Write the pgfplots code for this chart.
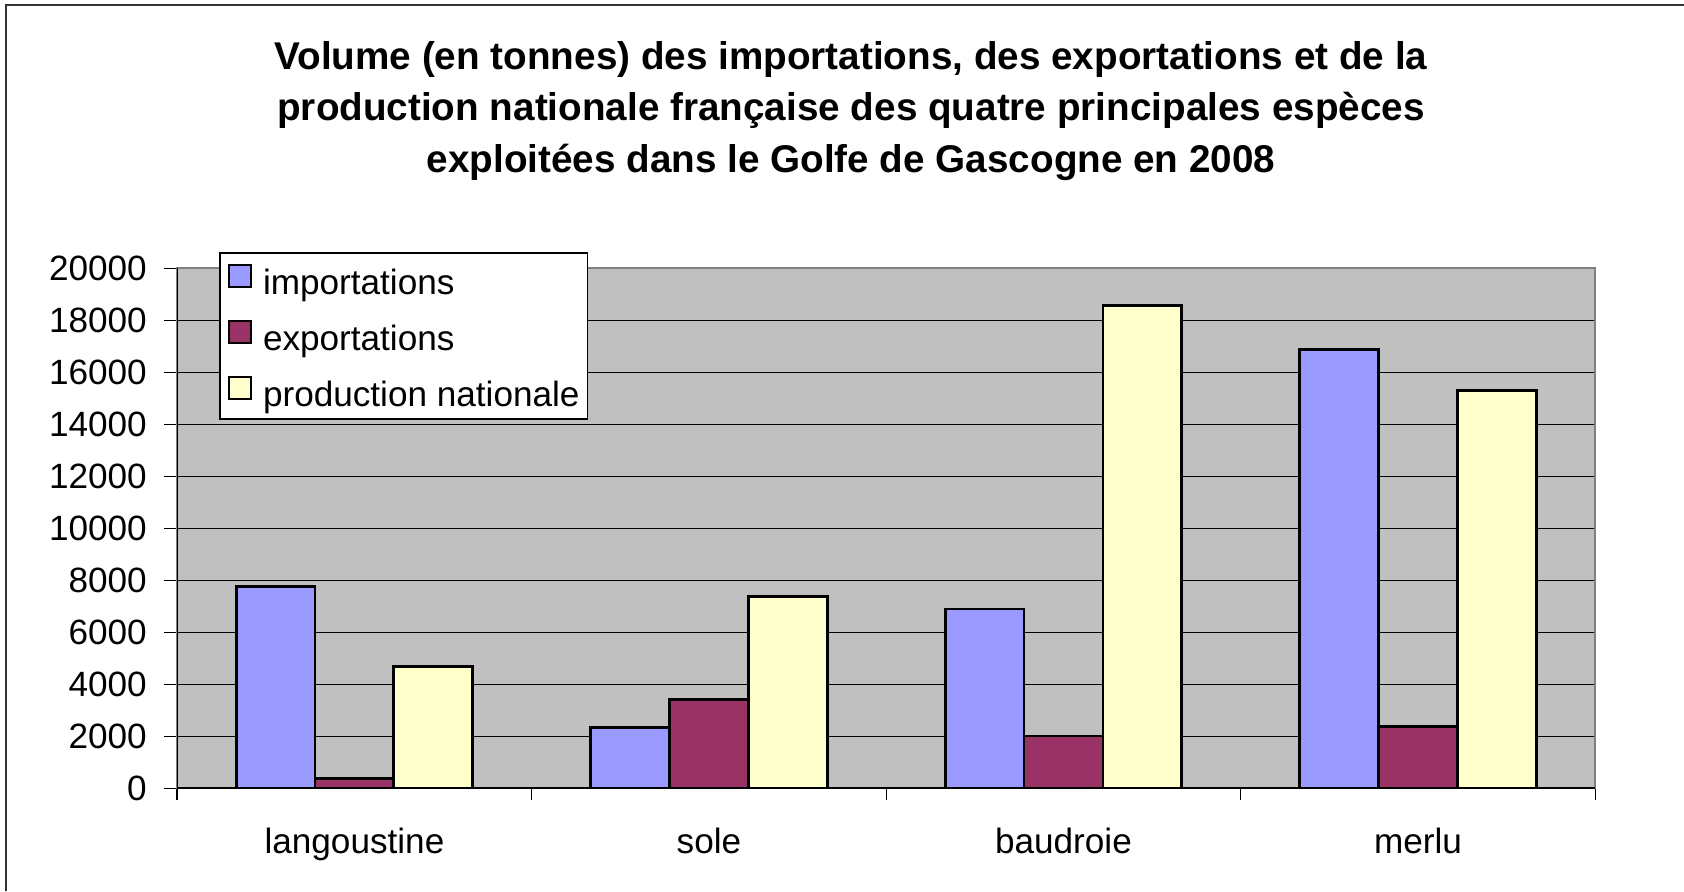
\documentclass[border=0pt]{standalone}
\usepackage{fontspec}
\setmainfont{Liberation Sans}
\usepackage{pgfplots}
\pgfplotsset{compat=1.18}

\definecolor{imp}{HTML}{9999FF}
\definecolor{exp}{HTML}{993366}
\definecolor{prod}{HTML}{FFFFCC}
\definecolor{plotbg}{HTML}{C0C0C0}

\pgfplotsset{
  sqlegend/.style={legend image code/.code={\draw[##1,line width=0.6pt] (0cm,-0.07cm) rectangle (0.22cm,0.15cm);}},
}

\begin{document}
\begin{tikzpicture}
\useasboundingbox (0,0) rectangle (16.84,8.91);
\draw[line width=0.6pt, black!80] (0.06,0) -- (0.06,8.86) -- (16.84,8.86);

% title, three lines
\begin{scope}[font=\fontsize{11}{13}\selectfont\bfseries]
\node[anchor=base] at (8.51,8.22) {Volume (en tonnes) des importations, des exportations et de la};
\node[anchor=base] at (8.51,7.705) {production nationale française des quatre principales espèces};
\node[anchor=base] at (8.51,7.19) {exploitées dans le Golfe de Gascogne en 2008};
\end{scope}

\begin{axis}[
    at={(1.772cm,1.027cm)}, anchor=south west,
    scale only axis, width=14.18cm, height=5.2cm,
    ybar=0pt, bar width=0.789cm,
    xmin=-0.5, xmax=3.5, ymin=0, ymax=20000,
    xtick={0,1,2,3},
    xticklabels={langoustine,sole,baudroie,merlu},
    minor xtick={-0.5,0.5,1.5,2.5,3.5},
    ytick={0,2000,...,20000},
    xtick pos=bottom, ytick pos=left,
    tick align=outside,
    major tick length=0.13cm, minor tick length=0.12cm,
    every major x tick/.append style={draw=none},
    every minor x tick/.append style={black, line width=0.4pt},
    tick style={black, line width=0.4pt},
    ymajorgrids, y grid style={black, line width=0.35pt},
    axis background/.style={fill=plotbg},
    axis line style={draw=gray, line width=0.5pt},
    scaled y ticks=false,
    /pgf/number format/1000 sep={},
    /pgf/number format/assume math mode=true,
    ticklabel style={font=\fontsize{10}{12}\selectfont},
    xticklabel style={yshift=-0.14cm},
    yticklabel style={xshift=-0.05cm},
    legend cell align=left,
    legend style={at={(0.0295,1.031)}, anchor=north west,
        draw=black, line width=0.5pt, fill=white,
        font=\fontsize{10}{12}\selectfont,
        inner xsep=0.08cm, inner ysep=0.11cm,
        row sep=0.24cm, column sep=0.11cm,
        nodes={inner sep=0pt, text height=0.30cm, text depth=0.02cm}},
]
\addplot[sqlegend, fill=imp, draw=black, line width=0.8pt]
    coordinates {(0,7770) (1,2330) (2,6900) (3,16870)};
\addplot[sqlegend, fill=exp, draw=black, line width=0.8pt]
    coordinates {(0,370) (1,3430) (2,2010) (3,2390)};
\addplot[sqlegend, fill=prod, draw=black, line width=0.8pt]
    coordinates {(0,4670) (1,7370) (2,18580) (3,15290)};
\legend{importations, exportations, production nationale}
\draw[black, line width=0.6pt] (rel axis cs:0,1) -- (rel axis cs:0,0) -- (rel axis cs:1,0);
\end{axis}
\end{tikzpicture}
\end{document}
